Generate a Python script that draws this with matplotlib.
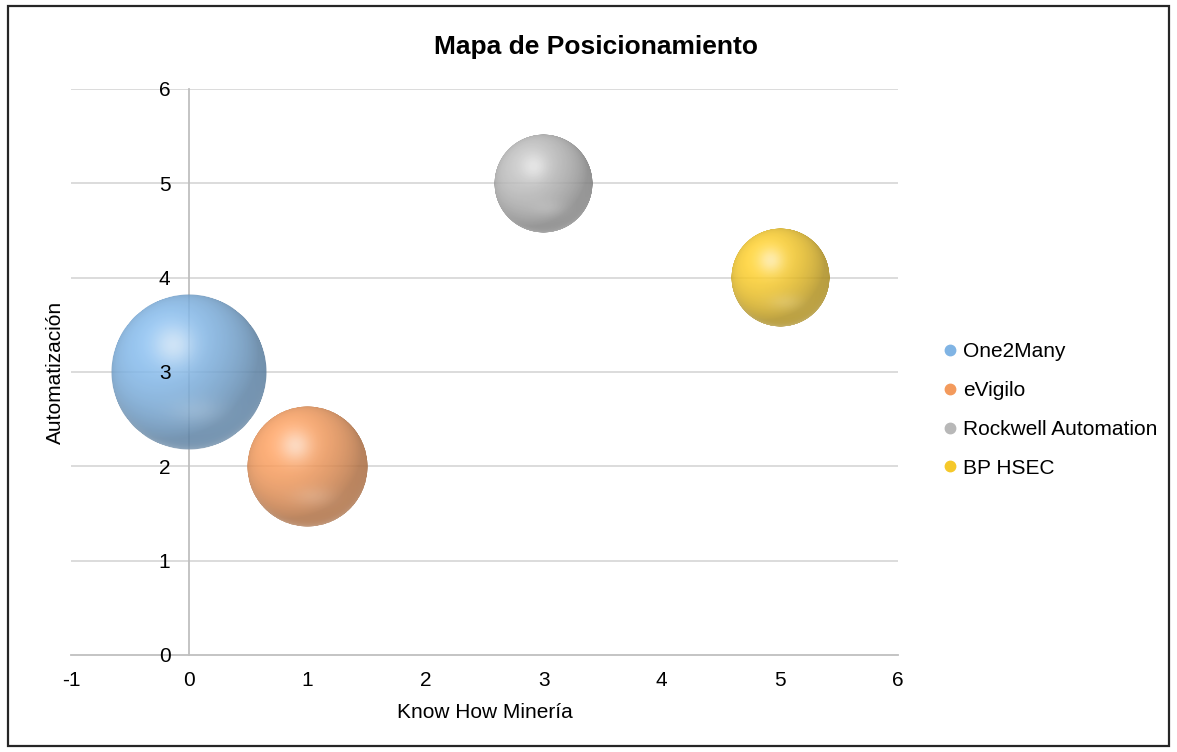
import numpy as np
import matplotlib
matplotlib.use("Agg")
import matplotlib.pyplot as plt
from matplotlib.colors import to_rgb
from matplotlib.lines import Line2D
from matplotlib.offsetbox import OffsetImage, AnnotationBbox
from matplotlib.patches import Rectangle

plt.rcParams['font.family'] = ['Liberation Sans', 'DejaVu Sans']
plt.rcParams['axes.unicode_minus'] = False

# Datos del mapa de posicionamiento
empresas = ["One2Many", "eVigilo", "Rockwell Automation", "BP HSEC"]
know_how = [0, 1, 3, 5]
automatizacion = [3, 2, 5, 4]
tamanos = [5, 3, 2, 2]
colores = ["#80B4E4", "#F39A5C", "#B8B8B8", "#F5C82A"]
x_ticks = [-1, 0, 1, 2, 3, 4, 5, 6]
y_ticks = [0, 1, 2, 3, 4, 5, 6]

DPI = 100
W, H = 1177, 752
DIAM_MAX_PX = 156  # diámetro (px) de la burbuja más grande
N = 300            # resolución de la imagen de cada esfera


# Imagen RGBA de una esfera con brillo (estilo burbuja 3D de Excel)
def esfera(color, n=N):
    rgb = np.array(to_rgb(color))
    t = np.linspace(-1, 1, n)
    u, v = np.meshgrid(t, -t)
    r = np.sqrt(u**2 + v**2)
    z = np.sqrt(np.clip(1 - r**2, 0, 1))
    luz = np.array([-0.45, 0.5, 0.74])
    luz /= np.linalg.norm(luz)
    diff = np.clip(u * luz[0] + v * luz[1] + z * luz[2], 0, 1)
    shade = (0.74 + 0.34 * diff) * (0.86 + 0.14 * z**0.4)
    img = rgb[None, None, :] * shade[..., None]
    # brillo superior izquierdo, teñido del color base
    claro = 0.3 * rgb + 0.7
    spec = np.exp(-((u + 0.2)**2 + (v - 0.35)**2) / 0.07)
    img = img + (claro - img) * (0.75 * spec)[..., None]
    # reflejo suave abajo
    refl = np.exp(-((u - 0.1)**2 / 0.12 + (v + 0.5)**2 / 0.03))
    img = img + (1 - img) * (0.15 * refl)[..., None]
    # borde inferior más claro
    rim = np.exp(-(1 - np.clip(r, 0, 1)) / 0.05) * np.clip(-v, 0, 1)
    img = img + (1 - img) * (0.25 * rim)[..., None]
    img = np.clip(img, 0, 1)
    alpha = np.clip((1 - r) * n / 2, 0, 1) * 0.85
    return np.dstack([img, alpha])


fig = plt.figure(figsize=(W / DPI, H / DPI), dpi=DPI)
ax = fig.add_axes([71 / W, 1 - 655 / H, (898 - 71) / W, (655 - 89) / H])
ax.set_xlim(-1, 6)
ax.set_ylim(0, 6)

# líneas de división horizontales
ax.hlines(y_ticks[1:], -1, 6, color="#D9D9D9", lw=1.3, zorder=1)

ax.spines['top'].set_visible(False)
ax.spines['right'].set_visible(False)
ax.spines['left'].set_position(('data', 0))
for lado in ['left', 'bottom']:
    ax.spines[lado].set_color("#BFBFBF")
    ax.spines[lado].set_linewidth(1.3)
    ax.spines[lado].set_zorder(2)

ax.set_xticks(x_ticks)
ax.set_yticks(y_ticks)
ax.tick_params(axis='both', length=0, labelsize=15, colors='black')
ax.tick_params(axis='x', pad=11.5)
ax.tick_params(axis='y', pad=13.5)
ax.xaxis.set_zorder(4)
ax.yaxis.set_zorder(4)

# burbujas
tam_max = max(tamanos)
for x, y, s, c in zip(know_how, automatizacion, tamanos, colores):
    diam_px = DIAM_MAX_PX * np.sqrt(s / tam_max)
    zoom = diam_px * 72 / DPI / N
    ab = AnnotationBbox(OffsetImage(esfera(c), zoom=zoom), (x, y),
                        xycoords='data', frameon=False, pad=0,
                        box_alignment=(0.5, 0.5), annotation_clip=False)
    ab.set_zorder(3)
    ax.add_artist(ab)

fig.text(596 / W, 1 - 47 / H, "Mapa de Posicionamiento", ha='center',
         va='center', fontsize=19, fontweight='bold')
fig.text(485 / W, 1 - 713 / H, "Know How Minería", ha='center',
         va='center', fontsize=15)
fig.text(55 / W, 1 - 372 / H, "Automatización", ha='center',
         va='center', rotation=90, fontsize=15)

# leyenda
handles = [Line2D([], [], marker='o', ls='', markersize=7.5,
                  markerfacecolor=c, markeredgecolor=c) for c in colores]
fig.legend(handles, empresas, loc='center left',
           bbox_to_anchor=(944 / W, 1 - 410 / H), frameon=False,
           fontsize=15, handlelength=0.6, handletextpad=0.3,
           labelspacing=0.95, borderpad=0, borderaxespad=0)

# borde del gráfico
fig.add_artist(Rectangle((8 / W, 6 / H), (1169 - 8) / W, (746 - 6) / H,
                         transform=fig.transFigure, fill=False,
                         ec="#262626", lw=1.6))

fig.savefig("out.png", dpi=DPI)
